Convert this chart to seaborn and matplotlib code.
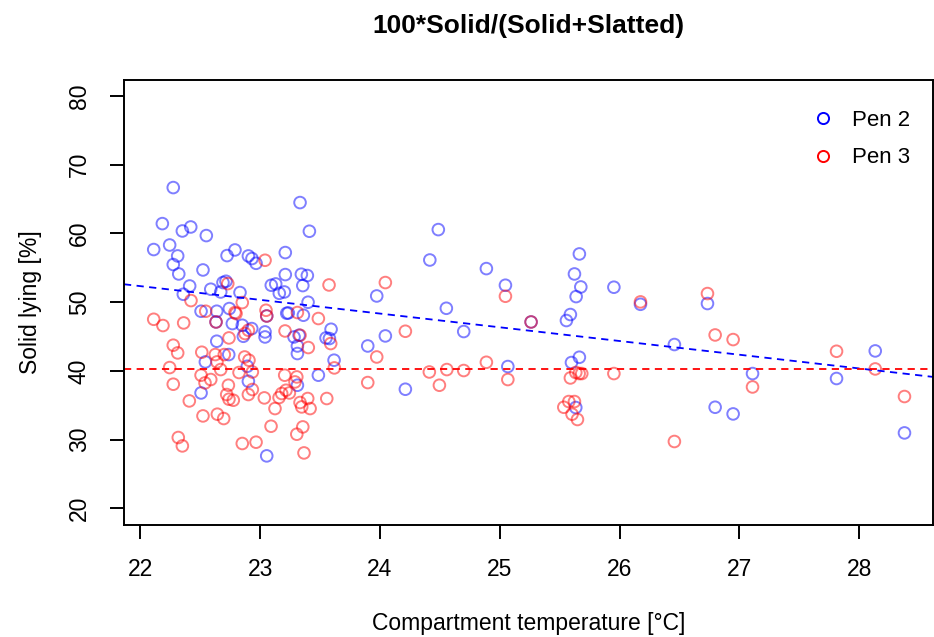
import numpy as np
import pandas as pd
import matplotlib
matplotlib.use("Agg")
import matplotlib.pyplot as plt
from matplotlib.lines import Line2D
import seaborn as sns

# Pen 2 (blue) readings
pen2_temp = [22.275, 22.184, 22.351, 22.421, 22.551, 22.112, 22.245, 22.312, 22.275, 22.321,
             22.523, 22.790, 22.724, 22.902, 22.932, 22.966, 23.210, 23.210, 22.412, 22.359,
             22.588, 22.690, 22.715, 22.671, 22.832, 23.093, 23.130, 23.160, 23.202, 22.507,
             22.638, 22.743, 23.222, 23.055, 22.632, 22.768, 22.851, 22.930, 22.860, 23.041,
             23.041, 22.638, 22.543, 22.738, 22.893, 22.902, 22.507, 23.055, 23.333, 23.411,
             23.344, 23.394, 23.356, 23.400, 24.487, 24.416, 23.973, 23.235, 23.361, 23.592,
             23.283, 23.325, 23.550, 23.578, 23.311, 23.311, 23.617, 23.486, 23.311, 24.045,
             23.898, 24.212, 24.888, 25.047, 24.554, 24.699, 25.261, 25.664, 25.623, 25.676,
             25.637, 25.952, 25.589, 25.556, 26.174, 26.457, 25.664, 25.598, 25.067, 25.634,
             26.733, 26.797, 26.947, 27.109, 27.810, 28.133, 28.377]
pen2_solid = [66.66, 61.42, 60.35, 60.93, 59.68, 57.65, 58.31, 56.72, 55.47, 54.10,
              54.68, 57.59, 56.77, 56.72, 56.34, 55.65, 57.21, 54.01, 52.35, 51.15,
              51.88, 52.85, 53.04, 51.48, 51.40, 52.46, 52.65, 51.29, 51.48, 48.68,
              48.68, 49.07, 48.39, 47.99, 47.12, 46.89, 46.64, 46.16, 45.04, 45.67,
              44.94, 44.32, 41.31, 42.38, 40.68, 38.50, 36.80, 27.65, 64.48, 60.31,
              54.06, 53.87, 52.41, 49.99, 60.55, 56.13, 50.90, 48.43, 48.10, 46.06,
              44.94, 45.19, 44.80, 44.71, 43.63, 42.53, 41.56, 39.38, 37.92, 45.09,
              43.63, 37.34, 54.88, 52.46, 49.11, 45.73, 47.12, 57.01, 54.10, 52.21,
              50.81, 52.17, 48.20, 47.33, 49.69, 43.84, 41.99, 41.22, 40.64, 34.68,
              49.80, 34.72, 33.75, 39.62, 38.90, 42.91, 30.99]

# Pen 3 (red) readings
pen3_temp = [23.041, 22.730, 22.423, 22.851, 22.546, 22.790, 23.049, 23.055, 22.112, 22.189,
             22.362, 22.632, 22.799, 22.740, 22.902, 22.874, 23.208, 22.275, 22.312, 22.513,
             22.626, 22.701, 22.640, 22.871, 22.907, 22.245, 22.671, 22.507, 22.588, 22.540,
             22.824, 22.935, 23.205, 22.275, 22.735, 22.935, 22.902, 22.721, 22.740, 22.776,
             22.409, 23.035, 23.158, 23.216, 23.124, 22.523, 22.643, 22.696, 23.091, 22.317,
             22.351, 22.851, 22.966, 23.575, 24.045, 23.311, 23.486, 23.333, 23.402, 23.589,
             23.973, 24.212, 23.619, 23.306, 23.291, 23.180, 23.244, 23.898, 24.412, 24.496,
             23.397, 23.333, 23.347, 23.417, 23.556, 23.356, 23.306, 23.366, 25.047, 25.261,
             26.174, 24.558, 24.699, 24.888, 25.067, 25.589, 25.634, 25.662, 25.684, 25.952,
             25.534, 25.576, 25.623, 25.603, 25.648, 26.457, 26.733, 26.797, 26.947, 27.109,
             27.810, 28.133, 28.377]
pen3_solid = [56.09, 52.70, 50.23, 49.94, 48.68, 48.49, 48.82, 47.99, 47.51, 46.60,
              46.98, 47.12, 48.34, 44.80, 45.92, 45.44, 45.81, 43.74, 42.62, 42.72,
              42.38, 42.38, 41.31, 42.03, 41.56, 40.49, 40.20, 39.38, 38.75, 38.26,
              39.77, 39.85, 39.38, 38.07, 37.92, 37.30, 36.57, 36.57, 35.89, 35.74,
              35.64, 36.08, 36.13, 37.19, 34.53, 33.46, 33.71, 33.08, 31.96, 30.32,
              29.10, 29.45, 29.64, 52.50, 52.85, 48.49, 47.62, 45.19, 43.40, 43.98,
              42.03, 45.77, 40.44, 39.13, 38.40, 36.72, 36.80, 38.31, 39.85, 37.92,
              35.99, 35.41, 34.77, 34.53, 35.99, 31.86, 30.80, 28.08, 50.86, 47.12,
              50.04, 40.20, 40.06, 41.26, 38.75, 38.98, 39.77, 39.62, 39.62, 39.62,
              34.72, 35.55, 35.55, 33.71, 32.94, 29.74, 51.25, 45.23, 44.56, 37.67,
              42.86, 40.29, 36.28]

# fitted lines (intercept, slope)
pens = ["Pen 2", "Pen 3"]
pen_colors = ["blue", "red"]
fit_intercept = [96.22, 40.35]
fit_slope = [-1.995, 0.0]

df = pd.concat([
    pd.DataFrame({"temp": pen2_temp, "solid": pen2_solid, "pen": "Pen 2"}),
    pd.DataFrame({"temp": pen3_temp, "solid": pen3_solid, "pen": "Pen 3"}),
])

sns.set_style("ticks")
plt.rcParams["font.family"] = ["Liberation Sans", "DejaVu Sans"]
plt.rcParams["text.color"] = "black"
plt.rcParams["xtick.color"] = "black"
plt.rcParams["ytick.color"] = "black"
plt.rcParams["axes.labelcolor"] = "black"

fig = plt.figure(figsize=(9.34, 6.37), dpi=100)
ax = fig.add_axes([124 / 934, 1 - 525 / 637, 809 / 934, 445 / 637])

for pen, col in zip(pens, pen_colors):
    sub = df[df["pen"] == pen]
    sns.scatterplot(x="temp", y="solid", data=sub, ax=ax, facecolor="none",
                    edgecolor=col, linewidth=1.4, s=70, alpha=0.5, legend=False)

for a, b, col in zip(fit_intercept, fit_slope, pen_colors):
    ax.axline((0, a), slope=b, color=col, lw=1.3, ls=(0, (4, 3)))

ax.set_xlim(21.864, 28.615)
ax.set_ylim(17.6, 82.3)
ax.set_xticks(range(22, 29))
ax.set_yticks(range(20, 81, 10))

for s in ax.spines.values():
    s.set_color("black")
    s.set_linewidth(1.4)
ax.tick_params(axis="both", direction="out", length=10, width=1.4, labelsize=16.5,
               color="black", labelcolor="black")
ax.tick_params(axis="x", pad=14)
ax.tick_params(axis="y", pad=14)
for lab in ax.get_yticklabels():
    lab.set_rotation(90)
    lab.set_va("center")

ax.set_xlabel("Compartment temperature [°C]", fontsize=16.5)
ax.set_ylabel("Solid lying [%]", fontsize=16.5)
ax.xaxis.set_label_coords(0.5, -0.196)
ax.yaxis.set_label_coords(-0.101, 0.5)
ax.set_title("100*Solid/(Solid+Slatted)", fontsize=19, fontweight="bold", pad=34)

handles = [Line2D([], [], ls="none", marker="o", markersize=8, markerfacecolor="none",
                  markeredgecolor=c, markeredgewidth=1.4) for c in pen_colors]
ax.legend(handles, pens, loc="upper left", bbox_to_anchor=(0.826, 0.978), frameon=False,
          fontsize=16, handlelength=1.0, handletextpad=0.8, labelspacing=0.75)

fig.savefig("out.png", dpi=100)
